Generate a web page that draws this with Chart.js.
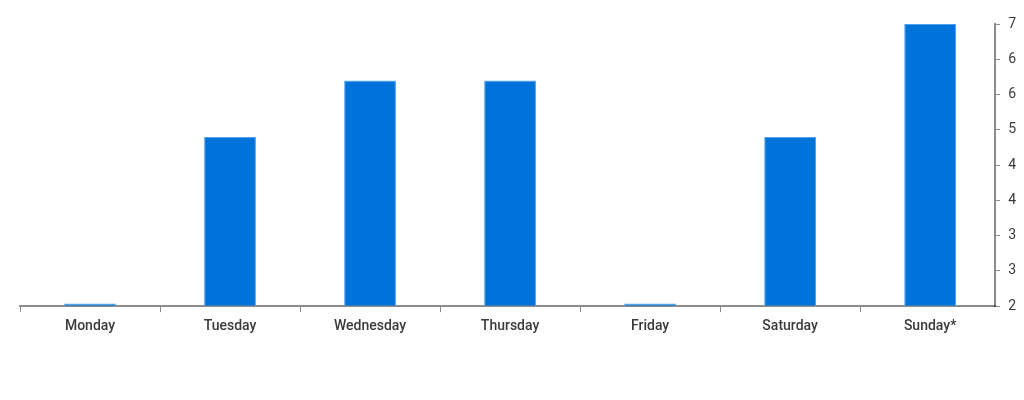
<!DOCTYPE html>
<html>
<head>
<meta charset="utf-8">
<script src="https://cdn.jsdelivr.net/npm/chart.js@4/dist/chart.umd.min.js"></script>
<style>
    html, body { margin: 0; padding: 0; background: #fff; }
    #wrap { width: 1024px; height: 400px; }
</style>
</head>
<body>
<div id="wrap"><canvas id="chart"></canvas></div>
<script>
const days = ["Monday", "Tuesday", "Wednesday", "Thursday", "Friday", "Saturday", "Sunday*"]
const values = [2.05, 5, 6, 6, 2.05, 5, 7]
const tickValues = [2, 2.625, 3.25, 3.875, 4.5, 5.125, 5.75, 6.375, 7]
const tickLabels = ["2", "3", "3", "4", "4", "5", "6", "6", "7"]

const axisColor = "rgba(0, 0, 0, 0.45)"
const textColor = "#3a3a3a"
const tickFont = { family: "Roboto", size: 14, weight: "500" }

// the categories run a little past the value axis line, as in the original
const stretchCategories = {
    id: "stretchCategories",
    afterLayout(chart) {
        const x = chart.scales.x
        x._endPixel += 5
        x._length += 5
    },
}

new Chart("chart", {
    type: "bar",
    data: {
        labels: days,
        datasets: [{
            data: values,
            backgroundColor: "#0073db",
            borderColor: "#4da3ef",
            borderWidth: { top: 1, left: 1, right: 1, bottom: 0 },
            barPercentage: 0.37,
            categoryPercentage: 1,
            base: 2,
        }]
    },
    plugins: [stretchCategories],
    options: {
        responsive: true,
        maintainAspectRatio: false,
        animation: false,
        layout: {
            padding: { left: 20, right: 0, top: 24, bottom: 59 },
        },
        plugins: {
            legend: { display: false },
            tooltip: { enabled: false },
        },
        scales: {
            x: {
                z: 1,
                grid: {
                    display: true,
                    drawOnChartArea: false,
                    // no tick after the last category
                    color: ctx => (ctx.index === undefined || ctx.index >= days.length) ? "rgba(0,0,0,0)" : axisColor,
                    tickLength: 6,
                    offset: true,
                },
                border: { display: true, color: axisColor, width: 2 },
                ticks: {
                    color: textColor,
                    font: tickFont,
                    padding: 6,
                    maxRotation: 0,
                },
            },
            y: {
                position: "right",
                min: 2,
                max: 7,
                afterBuildTicks: axis => {
                    axis.ticks = tickValues.map(v => ({ value: v }))
                },
                grid: {
                    display: true,
                    drawOnChartArea: false,
                    color: axisColor,
                    tickLength: 5,
                },
                border: { display: true, color: axisColor, width: 2 },
                ticks: {
                    color: textColor,
                    font: { family: "Roboto", size: 14 },
                    padding: 8,
                    callback: (value, index) => tickLabels[index],
                },
            },
        },
    },
})
</script>
</body>
</html>
